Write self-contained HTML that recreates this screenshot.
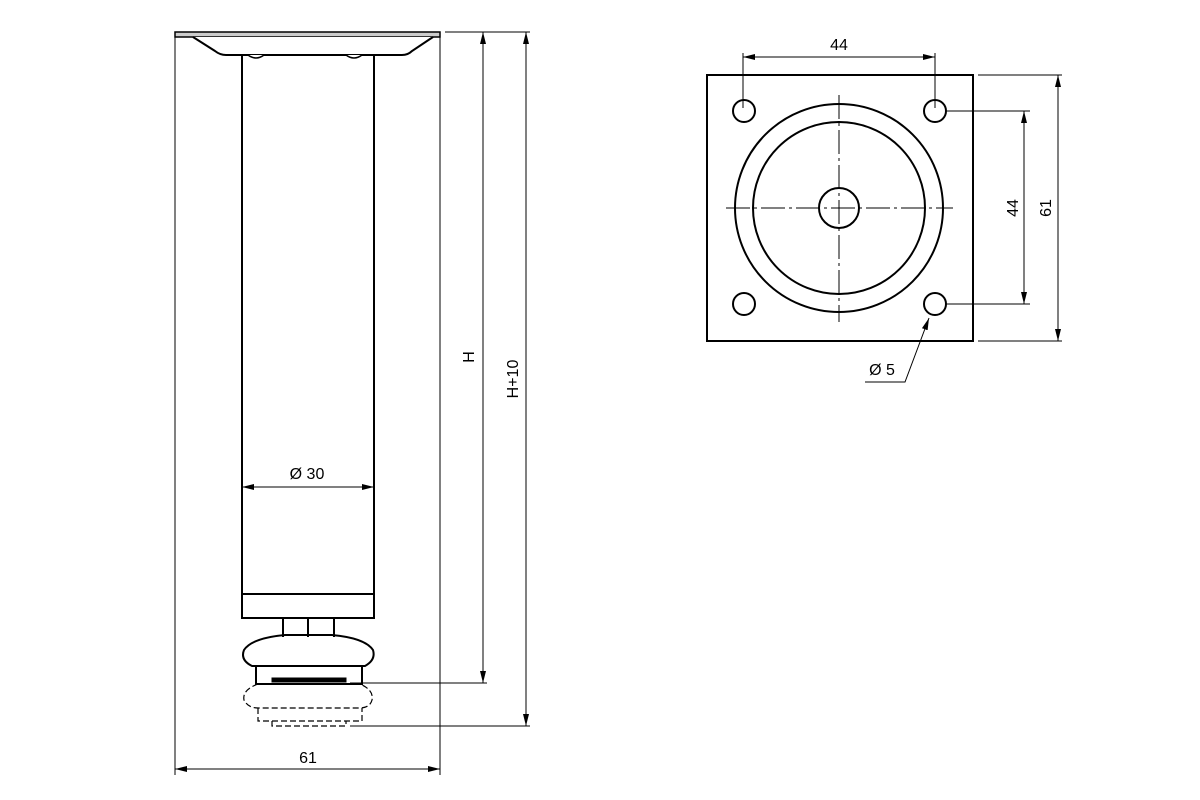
<!DOCTYPE html>
<html><head><meta charset="utf-8"><style>body{margin:0;background:#fff}svg{display:block}text{font-family:"Liberation Sans",sans-serif;font-size:16px;fill:#000}</style></head><body>
<svg width="1200" height="800" viewBox="0 0 1200 800">
<defs><marker id="a" viewBox="0 0 12 6" refX="12" refY="3" markerWidth="12" markerHeight="6" orient="auto-start-reverse" markerUnits="userSpaceOnUse"><path d="M0,0L12,3L0,6z" fill="#000"/></marker></defs>
<g fill="none" stroke="#000" stroke-width="2">
<rect x="242" y="55" width="132" height="563"/>
<rect x="175" y="32" width="265" height="5" stroke-width="1.5" fill="#ccc"/>
<path d="M193,37 L215,51 Q220,55 226,55 L402,55 Q408,55 412,51 L433,37" fill="#fff"/>
<path d="M248,55 q8,6 16,0 M346,55 q8,6 16,0" stroke-width="1.5" fill="#fff"/>
<line x1="242" y1="594" x2="374" y2="594"/>
<path d="M283,618V637M308,618V637M334,618V637"/>
<path d="M252,666 Q240,660 244,650 Q252,638 285,635 L332,635 Q365,638 373,650 Q376,660 365,666 Z"/>
<rect x="256" y="666" width="106" height="18"/>
<rect x="272" y="678" width="74" height="4" fill="#000" stroke-width="1"/>
</g>
<g fill="none" stroke="#000" stroke-width="1.2" stroke-dasharray="6,3">
<path d="M258,684 Q242,690 244,700 Q248,708 258,708 L359,708 Q370,708 372,700 Q374,690 360,684"/>
<path d="M258,708V721H362V708M272,721V726H346V721"/>
</g>
<g stroke="#000" stroke-width="1" fill="none">
<line x1="175" y1="37" x2="175" y2="775"/><line x1="440" y1="37" x2="440" y2="775"/>
<line x1="445" y1="32" x2="530" y2="32"/>
<line x1="350" y1="683" x2="487" y2="683"/><line x1="350" y1="726" x2="530" y2="726"/>
<line x1="483" y1="32" x2="483" y2="683" marker-start="url(#a)" marker-end="url(#a)"/>
<line x1="526" y1="32" x2="526" y2="726" marker-start="url(#a)" marker-end="url(#a)"/>
<line x1="175" y1="769" x2="440" y2="769" marker-start="url(#a)" marker-end="url(#a)"/>
<line x1="242" y1="487" x2="374" y2="487" marker-start="url(#a)" marker-end="url(#a)"/>
</g>
<text x="307" y="479" text-anchor="middle">Ø 30</text>
<text x="308" y="763" text-anchor="middle">61</text>
<text transform="translate(474,357) rotate(-90)" text-anchor="middle">H</text>
<text transform="translate(518,379) rotate(-90)" text-anchor="middle">H+10</text>
<g fill="none" stroke="#000" stroke-width="2">
<rect x="707" y="75" width="266" height="266"/>
<circle cx="839" cy="208" r="104"/><circle cx="839" cy="208" r="86"/><circle cx="839" cy="208" r="20"/>
<circle cx="744" cy="111" r="11"/><circle cx="935" cy="111" r="11"/><circle cx="744" cy="304" r="11"/><circle cx="935" cy="304" r="11"/>
</g>
<g stroke="#000" stroke-width="1" fill="none">
<path d="M839,95V322M726,208H953" stroke-dasharray="24,4,3,4"/>
<line x1="743" y1="53" x2="743" y2="108"/><line x1="935" y1="53" x2="935" y2="108"/>
<line x1="743" y1="57" x2="935" y2="57" marker-start="url(#a)" marker-end="url(#a)"/>
<line x1="946" y1="111" x2="1030" y2="111"/><line x1="946" y1="304" x2="1030" y2="304"/>
<line x1="1024" y1="111" x2="1024" y2="304" marker-start="url(#a)" marker-end="url(#a)"/>
<line x1="978" y1="75" x2="1062" y2="75"/><line x1="978" y1="341" x2="1062" y2="341"/>
<line x1="1058" y1="75" x2="1058" y2="341" marker-start="url(#a)" marker-end="url(#a)"/>
<polyline points="865,382 905,382 929,318" marker-end="url(#a)"/>
</g>
<text x="839" y="50" text-anchor="middle">44</text>
<text transform="translate(1018,208) rotate(-90)" text-anchor="middle">44</text>
<text transform="translate(1051,208) rotate(-90)" text-anchor="middle">61</text>
<text x="882" y="375" text-anchor="middle">Ø 5</text>
</svg></body></html>
